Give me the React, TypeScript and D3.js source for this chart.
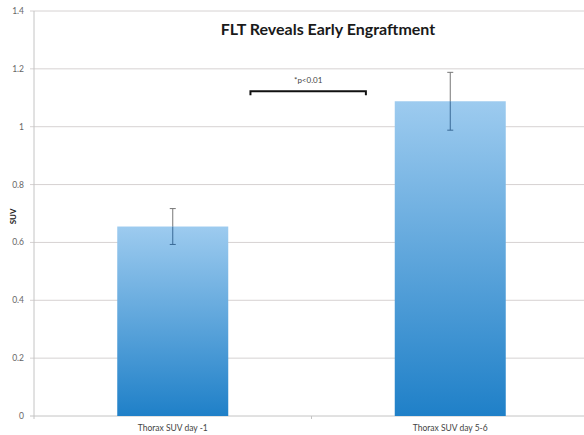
import React from "react";
import * as d3 from "d3";

// bar data
const categories = ["Thorax SUV day -1", "Thorax SUV day 5-6"];
const suvMeans = [0.655, 1.088];
const suvErrors = [0.062, 0.1];
const yTicks = [0, 0.2, 0.4, 0.6, 0.8, 1, 1.2, 1.4];
const pLabel = "*p<0.01";

const W = 584;
const H = 435;
const margin = { top: 11, right: -5, bottom: 19, left: 34 };

const App = () => {
  const innerBottom = H - margin.bottom;

  const x = d3
    .scaleBand<string>()
    .domain(categories)
    .range([margin.left, W - margin.right])
    .paddingInner(0.6)
    .paddingOuter(0.3);

  // band width used for the middle tick between categories
  const step = x.step();

  const y = d3.scaleLinear().domain([0, 1.4]).range([innerBottom, margin.top]);

  const font = "Lato, 'Open Sans', sans-serif";

  // bracket sits between the two bars
  const bx0 = x(categories[0])! + x.bandwidth() * 1.2;
  const bx1 = x(categories[1])! - x.bandwidth() * 0.26;
  const by = y(1.123);

  return (
    <svg
      width={W}
      height={H}
      style={{ position: "absolute", left: 0, top: 0, background: "#fff" }}
    >
      <defs>
        <linearGradient id="barGrad" x1="0" y1="0" x2="0" y2="1">
          <stop offset="0%" stopColor="#9dcbef" />
          <stop offset="100%" stopColor="#1f80c8" />
        </linearGradient>
      </defs>

      {/* gridlines */}
      {yTicks.map((t) => (
        <g key={t}>
          <line
            x1={margin.left - 4}
            x2={W}
            y1={y(t)}
            y2={y(t)}
            stroke={t === 0 ? "#c4c4c4" : "#d6d2d2"}
            strokeWidth={1}
          />
          <text
            x={margin.left - 10}
            y={y(t)}
            dy="0.35em"
            textAnchor="end"
            fontFamily={font}
            fontSize={8.5}
            fill="#666"
          >
            {t}
          </text>
        </g>
      ))}

      {/* y axis */}
      <line
        x1={margin.left}
        x2={margin.left}
        y1={margin.top}
        y2={innerBottom + 3}
        stroke="#c4c4c4"
      />
      <line
        x1={margin.left + step * 1}
        x2={margin.left + step * 1}
        y1={innerBottom}
        y2={innerBottom + 3}
        stroke="#c4c4c4"
      />

      {/* bars */}
      {categories.map((c, i) => (
        <rect
          key={c}
          x={x(c)}
          y={y(suvMeans[i])}
          width={x.bandwidth()}
          height={innerBottom - y(suvMeans[i])}
          fill="url(#barGrad)"
        />
      ))}

      {/* error bars: grey above the bar, dark blue inside it */}
      {categories.map((c, i) => {
        const cx = x(c)! + x.bandwidth() / 2;
        const top = y(suvMeans[i]);
        const hi = y(suvMeans[i] + suvErrors[i]);
        const lo = y(suvMeans[i] - suvErrors[i]);
        return (
          <g key={c + "-err"} strokeWidth={1}>
            <line x1={cx} x2={cx} y1={hi} y2={top} stroke="#777" />
            <line x1={cx} x2={cx} y1={top} y2={lo} stroke="#3a6a96" />
            <line x1={cx - 3} x2={cx + 3} y1={hi} y2={hi} stroke="#777" />
            <line x1={cx - 3} x2={cx + 3} y1={lo} y2={lo} stroke="#3a6a96" />
          </g>
        );
      })}

      {/* category labels */}
      {categories.map((c) => (
        <text
          key={c + "-lbl"}
          x={x(c)! + x.bandwidth() / 2}
          y={innerBottom + 15}
          textAnchor="middle"
          fontFamily={font}
          fontSize={8.5}
          fill="#444"
        >
          {c}
        </text>
      ))}

      {/* y label */}
      <text
        transform={`translate(16,${y(0.69)}) rotate(-90)`}
        textAnchor="middle"
        fontFamily={font}
        fontSize={8}
        fontWeight="bold"
        fill="#222"
      >
        SUV
      </text>

      {/* title */}
      <text
        x={328}
        y={35}
        textAnchor="middle"
        fontFamily={font}
        fontSize={16}
        fontWeight="bold"
        fill="#1a1a1a"
      >
        FLT Reveals Early Engraftment
      </text>

      {/* significance bracket */}
      <path
        d={`M${bx0},${by + 4}V${by}H${bx1}V${by + 4}`}
        fill="none"
        stroke="#111"
        strokeWidth={2}
      />
      <text
        x={(bx0 + bx1) / 2}
        y={by - 8}
        textAnchor="middle"
        fontFamily={font}
        fontSize={8}
        fill="#444"
      >
        {pLabel}
      </text>
    </svg>
  );
};

export default App;
